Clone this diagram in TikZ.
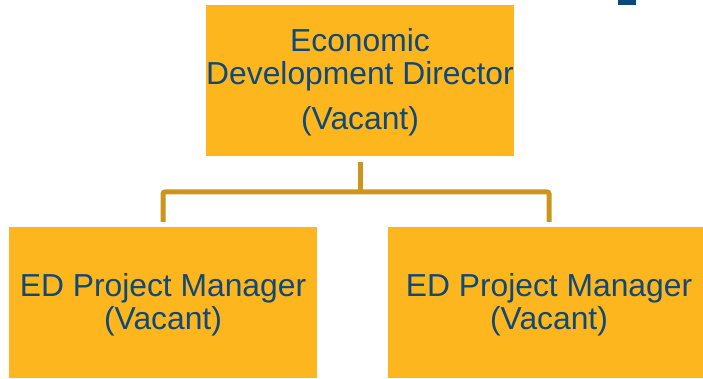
\documentclass[tikz,border=0pt]{standalone}
\usepackage{fontspec}
\setmainfont{Liberation Sans}
\usetikzlibrary{calc}
\definecolor{boxfill}{RGB}{253,182,29}
\definecolor{connclr}{RGB}{203,150,28}
\definecolor{txtblue}{RGB}{16,72,120}
\definecolor{markblue}{RGB}{14,72,122}
\tikzset{
  orgbox/.style={fill=boxfill, draw=none, inner sep=0pt, minimum height=151pt},
  orgtext/.style={inner sep=0pt, align=center, text=txtblue,
    font=\fontsize{31.8}{33}\selectfont},
  conn/.style={draw=connclr, line width=5pt, rounded corners=2pt}
}
\begin{document}
\begin{tikzpicture}[x=1pt,y=-1pt]
\useasboundingbox (0,0) rectangle (703,379);
\begin{scope}
\clip (0,0) rectangle (703,379);
\fill[markblue] (618,0) rectangle (636,5);
\node[orgbox, minimum width=308pt] (top) at (360,80.5) {};
\node[orgbox, minimum width=308pt] (left) at (163,302.5) {};
\node[orgbox, minimum width=322pt] (right) at (549,302.5) {};
\end{scope}
\node[orgtext] (toptext) at ([yshift=-2pt]top.center)
  {Economic\\Development Director\\[12pt](Vacant)};
\node[orgtext] (lefttext) at ([yshift=-2pt]left.center)
  {ED Project Manager\\(Vacant)};
\node[orgtext] (righttext) at ([yshift=-2pt]right.center)
  {ED Project Manager\\(Vacant)};
\coordinate (bus) at (360,192);
\draw[conn] ([yshift=-6pt]top.south) -- (bus);
\draw[conn] ([yshift=5pt]left.north) |- (bus) -| ([yshift=5pt]right.north);
\end{tikzpicture}
\end{document}
